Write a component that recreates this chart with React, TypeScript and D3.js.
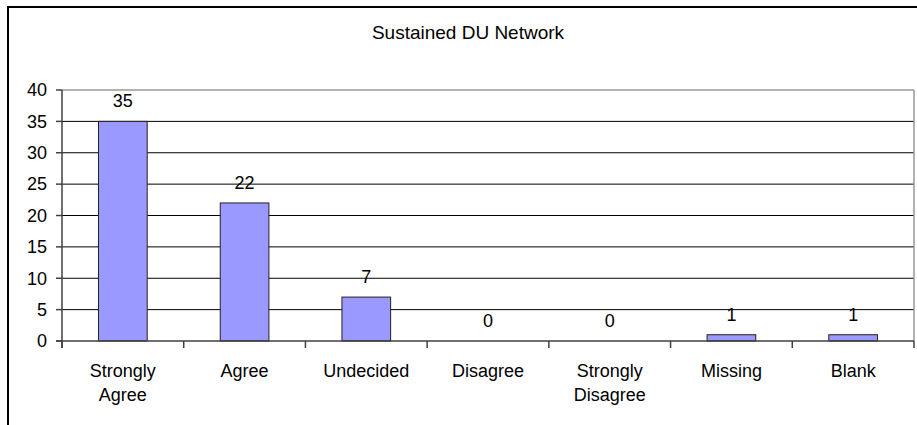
import React from "react";
import * as d3 from "d3";

const categories: string[][] = [
  ["Strongly", "Agree"],
  ["Agree"],
  ["Undecided"],
  ["Disagree"],
  ["Strongly", "Disagree"],
  ["Missing"],
  ["Blank"],
];
const values: number[] = [35, 22, 7, 0, 0, 1, 1];
const yTicks: number[] = [0, 5, 10, 15, 20, 25, 30, 35, 40];
const title = "Sustained DU Network";

const W = 917;
const H = 425;
const plot = { left: 62, right: 914, top: 90, bottom: 341 };
const font = "Liberation Sans, Arial, sans-serif";

export default function App() {
  const keys = categories.map((c) => c.join(" "));
  const x = d3
    .scaleBand<string>()
    .domain(keys)
    .range([plot.left, plot.right])
    .paddingInner(0)
    .paddingOuter(0);
  const y = d3.scaleLinear().domain([0, 40]).range([plot.bottom, plot.top]);
  const bw = x.bandwidth() / 2.5;
  const boundaries = d3.range(categories.length + 1).map((i) => plot.left + i * x.bandwidth());

  return (
    <svg
      width={W}
      height={H}
      style={{ position: "absolute", left: 0, top: 0, background: "#fff" }}
      fontFamily={font}
    >
      <rect x={0} y={0} width={W} height={H} fill="#fff" />
      {/* chart frame, continuing past the visible area */}
      <rect x={8} y={7} width={W + 20} height={H + 20} fill="none" stroke="#000" strokeWidth={2} />

      <text x={468} y={39} textAnchor="middle" fontSize={19} fill="#000">
        {title}
      </text>

      {/* gridlines */}
      {yTicks
        .filter((t) => t > 0 && t < 40)
        .map((t) => (
          <line key={t} x1={plot.left} x2={plot.right} y1={y(t)} y2={y(t)} stroke="#000" strokeWidth={1} />
        ))}
      {/* plot border: top and right */}
      <line x1={plot.left} x2={plot.right} y1={plot.top} y2={plot.top} stroke="#999" strokeWidth={1.5} />
      <line x1={plot.right} x2={plot.right} y1={plot.top} y2={plot.bottom} stroke="#999" strokeWidth={1.5} />

      {/* bars */}
      {values.map((v, i) => {
        const cx = (x(keys[i]) as number) + x.bandwidth() / 2;
        return (
          <g key={keys[i]}>
            {v > 0 && (
              <rect
                x={cx - bw / 2}
                y={y(v)}
                width={bw}
                height={y(0) - y(v)}
                fill="#9999FF"
                stroke="#222"
                strokeWidth={1}
              />
            )}
            <text x={cx} y={y(v) - 14} textAnchor="middle" fontSize={18} fill="#000">
              {v}
            </text>
          </g>
        );
      })}

      {/* y axis */}
      <line x1={plot.left} x2={plot.left} y1={plot.top} y2={plot.bottom + 7} stroke="#404040" strokeWidth={1.5} />
      {yTicks.map((t) => (
        <g key={t}>
          <line x1={plot.left - 6} x2={plot.left} y1={y(t)} y2={y(t)} stroke="#404040" strokeWidth={1.5} />
          <text x={47} y={y(t)} dy="0.35em" textAnchor="end" fontSize={18} fill="#000">
            {t}
          </text>
        </g>
      ))}

      {/* x axis */}
      <line x1={plot.left - 6} x2={plot.right} y1={plot.bottom} y2={plot.bottom} stroke="#404040" strokeWidth={1.5} />
      {boundaries.map((bx, i) => (
        <line key={i} x1={bx} x2={bx} y1={plot.bottom} y2={plot.bottom + 7} stroke="#404040" strokeWidth={1.5} />
      ))}
      {categories.map((lines, i) => {
        const cx = (x(keys[i]) as number) + x.bandwidth() / 2;
        return (
          <text key={keys[i]} x={cx} y={377} textAnchor="middle" fontSize={18} fill="#000">
            {lines.map((l, j) => (
              <tspan key={j} x={cx} dy={j === 0 ? 0 : 24}>
                {l}
              </tspan>
            ))}
          </text>
        );
      })}
    </svg>
  );
}
